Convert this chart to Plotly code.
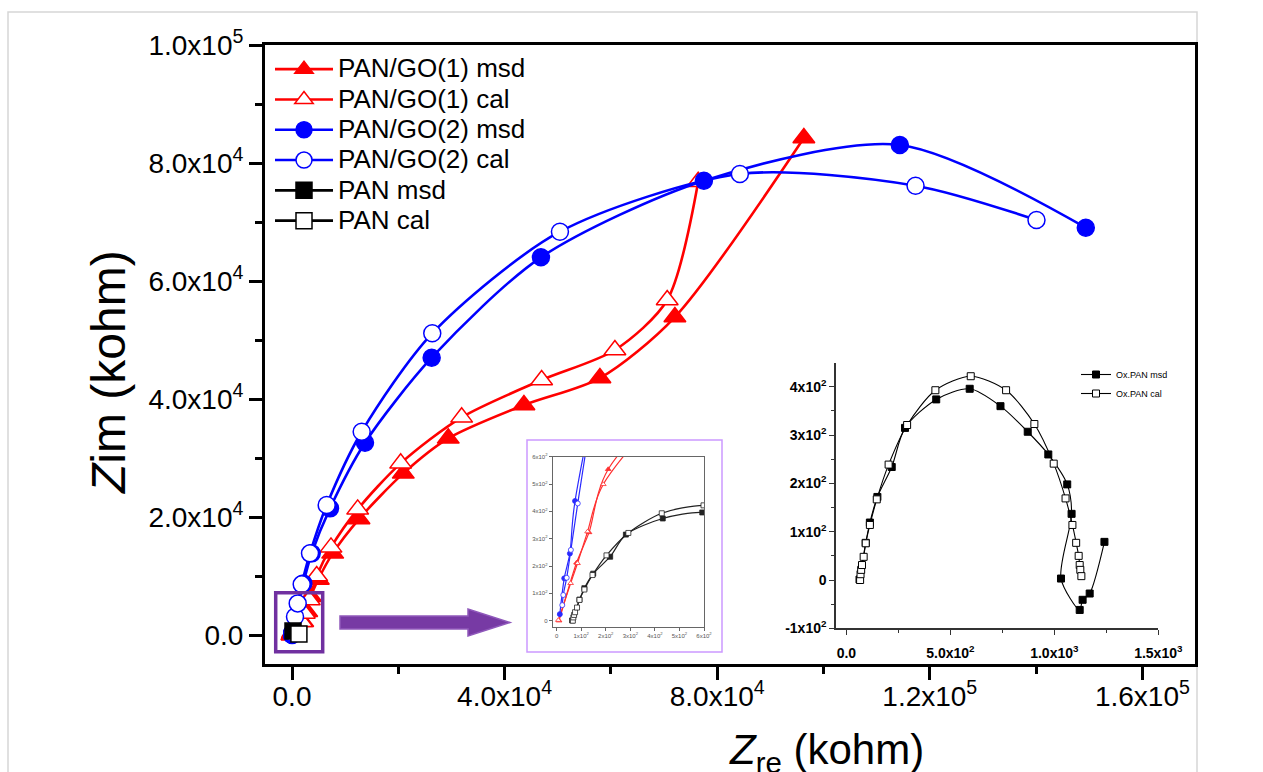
import plotly.graph_objects as go

W, H = 1263, 772
L, R, T, B = 265, 1195, 45, 664  # main plot area in px


def pp(px, py):
    """pixel -> paper coordinates (decorations only)"""
    return (px - L) / (R - L), (B - py) / (B - T)


# ---------------- data (kohm) ----------------
go1_msd_x = [10, 81, 132, 210, 2013, 2765, 3517, 4947, 7656, 12603, 20936, 29400, 43639, 57935, 72042, 96307]
go1_msd_y = [0, 212, 323, 554, 2254, 3949, 6492, 9441, 13848, 19662, 27408, 33341, 38985, 43562, 53901, 84242]

go1_cal_x = [7, 57, 85, 126, 190, 1825, 2314, 3254, 4646, 7336, 12358, 20446, 31920, 46969, 60756, 70594, 76425]
go1_cal_y = [2, 137, 210, 326, 499, 2254, 3678, 5933, 10001, 14865, 21306, 29103, 36900, 43223, 48308, 56783, 76834]

go2_msd_x = [13, 31, 54, 75, 2126, 3706, 7148, 13731, 26278, 46837, 77497, 114365, 149351]
go2_msd_y = [24, 155, 246, 438, 8763, 13848, 21476, 32595, 47002, 64020, 77004, 83055, 69037]

go2_cal_x = [23, 27, 41, 58, 86, 564, 1072, 1825, 3386, 6527, 13111, 26390, 50413, 84269, 117319, 140076]
go2_cal_y = [57, 94, 157, 259, 429, 3102, 5373, 8594, 13848, 22035, 34459, 51138, 68359, 78140, 76157, 70343]

# PAN as it appears at the scale of the main plot
pan_main_msd_x = [190]
pan_main_msd_y = [680]
pan_main_cal_x = [1300]
pan_main_cal_y = [170]

# Ox.PAN (insets)
pan_msd_x = [63, 93, 113, 149, 218, 282, 432, 593, 741, 872, 971, 1062, 1083, 1032, 1122, 1136, 1170, 1241]
pan_msd_y = [1, 77, 119, 172, 234, 315, 374, 396, 360, 307, 260, 198, 137, 3, -62, -41, -28, 79]
pan_cal_x = [66, 68, 71, 75, 83, 93, 113, 146, 203, 292, 428, 598, 768, 904, 997, 1054, 1087, 1105, 1117, 1122, 1125, 1130]
pan_cal_y = [0, 12, 21, 31, 48, 76, 114, 167, 239, 321, 393, 422, 393, 323, 241, 169, 114, 77, 50, 31, 21, 8]

# tick labels
main_x_vals = [0, 40000, 80000, 120000, 160000]
main_x_text = ["0.0", "4.0x10<sup>4</sup>", "8.0x10<sup>4</sup>", "1.2x10<sup>5</sup>", "1.6x10<sup>5</sup>"]
main_y_vals = [0, 20000, 40000, 60000, 80000, 100000]
main_y_text = ["0.0", "2.0x10<sup>4</sup>", "4.0x10<sup>4</sup>", "6.0x10<sup>4</sup>", "8.0x10<sup>4</sup>", "1.0x10<sup>5</sup>"]
small_vals = [0, 100, 200, 300, 400, 500, 600]
small_text = ["0", "1x10<sup>2</sup>", "2x10<sup>2</sup>", "3x10<sup>2</sup>", "4x10<sup>2</sup>", "5x10<sup>2</sup>", "6x10<sup>2</sup>"]
ins_x_vals = [0, 500, 1000, 1500]
ins_x_text = ["<b>0.0</b>", "<b>5.0x10<sup>2</sup></b>", "<b>1.0x10<sup>3</sup></b>", "<b>1.5x10<sup>3</sup></b>"]
ins_y_vals = [-100, 0, 100, 200, 300, 400]
ins_y_text = ["<b>-1x10<sup>2</sup></b>", "<b>0</b>", "<b>1x10<sup>2</sup></b>", "<b>2x10<sup>2</sup></b>",
              "<b>3x10<sup>2</sup></b>", "<b>4x10<sup>2</sup></b>"]

RED = "#ff0000"
BLUE = "#0000ff"
FONT = "Liberation Sans, Arial, sans-serif"
LEG_SPAN = "<span style='font-size:26px'>{}</span>"

fig = go.Figure()

# ---------------- main plot ----------------
main_series = [
    ("PAN/GO(1) msd", go1_msd_x, go1_msd_y, RED, "triangle-up", RED, 19),
    ("PAN/GO(1) cal", go1_cal_x, go1_cal_y, RED, "triangle-up", "white", 19),
    ("PAN/GO(2) msd", go2_msd_x, go2_msd_y, BLUE, "circle", BLUE, 17),
    ("PAN/GO(2) cal", go2_cal_x, go2_cal_y, BLUE, "circle", "white", 17),
    ("PAN msd", pan_main_msd_x, pan_main_msd_y, "black", "square", "black", 16),
    ("PAN cal", pan_main_cal_x, pan_main_cal_y, "black", "square", "white", 16),
]
for name, xs, ys, col, sym, fill, size in main_series:
    fig.add_trace(go.Scatter(
        x=xs, y=ys, name=LEG_SPAN.format(name), mode="lines+markers",
        line=dict(color=col, width=2.6, shape="spline", smoothing=0.8),
        marker=dict(symbol=sym, size=size, color=fill, line=dict(color=col, width=1.5)),
        xaxis="x", yaxis="y", legend="legend",
    ))

# ---------------- small zoom inset ----------------
small_series = [
    (go1_msd_x, go1_msd_y, "#ff3030", "triangle-up", "#ff3030"),
    (go1_cal_x, go1_cal_y, "#ff3030", "triangle-up", "white"),
    (go2_msd_x, go2_msd_y, "#2a2aff", "circle", "#2a2aff"),
    (go2_cal_x, go2_cal_y, "#2a2aff", "circle", "white"),
    (pan_msd_x, pan_msd_y, "#222222", "square", "#222222"),
    (pan_cal_x, pan_cal_y, "#222222", "square", "white"),
]
for xs, ys, col, sym, fill in small_series:
    fig.add_trace(go.Scatter(
        x=xs, y=ys, mode="lines+markers", showlegend=False,
        line=dict(color=col, width=1.2, shape="spline", smoothing=0.8),
        marker=dict(symbol=sym, size=5, color=fill, line=dict(color=col, width=0.8)),
        xaxis="x2", yaxis="y2", cliponaxis=True,
    ))

# ---------------- Ox.PAN inset ----------------
fig.add_trace(go.Scatter(
    x=pan_msd_x, y=pan_msd_y, name="Ox.PAN msd", mode="lines+markers",
    line=dict(color="black", width=1.1, shape="spline", smoothing=0.8),
    marker=dict(symbol="square", size=7, color="black", line=dict(color="black", width=1)),
    xaxis="x3", yaxis="y3", legend="legend2",
))
fig.add_trace(go.Scatter(
    x=pan_cal_x, y=pan_cal_y, name="Ox.PAN cal", mode="lines+markers",
    line=dict(color="black", width=1.1, shape="spline", smoothing=0.8),
    marker=dict(symbol="square", size=7, color="white", line=dict(color="black", width=1)),
    xaxis="x3", yaxis="y3", legend="legend2",
))

# ---------------- axes ----------------
base = dict(showgrid=False, zeroline=False, showline=True, automargin=False)

sx0, sy0 = pp(552.7, 626.7)
sx1, sy1 = pp(704, 456.7)
rx0, ry0 = pp(836, 628.3)
rx1, ry1 = pp(1158.3, 362.7)

fig.update_layout(
    width=W, height=H,
    margin=dict(l=L, r=W - R, t=T, b=H - B, autoexpand=False),
    paper_bgcolor="white", plot_bgcolor="rgba(0,0,0,0)",
    font=dict(family=FONT, color="black"),
    xaxis=dict(
        **base, linecolor="black", linewidth=3, mirror=True, domain=[0, 1], anchor="y",
        range=[-5080, 169900], ticks="outside", ticklen=13, tickwidth=2.5, tickcolor="black",
        tickmode="array", tickvals=main_x_vals, ticktext=main_x_text,
        tickfont=dict(size=28, family=FONT), ticklabelstandoff=-8,
        minor=dict(tickmode="array", tickvals=[20000, 60000, 100000, 140000],
                   ticks="outside", ticklen=7, tickwidth=2.5, tickcolor="black"),
    ),
    yaxis=dict(
        **base, linecolor="black", linewidth=3, mirror=True, domain=[0, 1], anchor="x",
        range=[-4900, 100000], ticks="outside", ticklen=13, tickwidth=2.5, tickcolor="black",
        tickmode="array", tickvals=main_y_vals, ticktext=main_y_text,
        tickfont=dict(size=28, family=FONT), ticklabelstandoff=0,
        minor=dict(tickmode="array", tickvals=[10000, 30000, 50000, 70000, 90000],
                   ticks="outside", ticklen=7, tickwidth=2.5, tickcolor="black"),
    ),
    xaxis2=dict(
        **base, linecolor="#666", linewidth=1, mirror=True,
        domain=[sx0, sx1], anchor="y2", range=[-16, 600], ticks="outside", ticklen=3,
        tickwidth=0.8, tickcolor="#666", tickmode="array", tickvals=small_vals, ticktext=small_text,
        tickfont=dict(size=6, color="#555", family=FONT),
    ),
    yaxis2=dict(
        **base, linecolor="#666", linewidth=1, mirror=True,
        domain=[sy0, sy1], anchor="x2", range=[-22, 600], ticks="outside", ticklen=3,
        tickwidth=0.8, tickcolor="#666", tickmode="array", tickvals=small_vals, ticktext=small_text,
        tickfont=dict(size=6, color="#555", family=FONT),
    ),
    xaxis3=dict(
        **base, linecolor="#333", linewidth=1.5, mirror=False,
        domain=[rx0, rx1], anchor="y3", range=[-50, 1500], ticks="outside", ticklen=5,
        tickwidth=1.2, tickcolor="#333", tickmode="array", tickvals=ins_x_vals, ticktext=ins_x_text,
        tickfont=dict(size=14, family=FONT), ticklabelstandoff=6,
        minor=dict(tickmode="array", tickvals=[250, 750, 1250], ticks="outside", ticklen=3,
                   tickwidth=1, tickcolor="#333"),
    ),
    yaxis3=dict(
        **base, linecolor="#333", linewidth=1.5, mirror=False,
        domain=[ry0, ry1], anchor="x3", range=[-100, 450], ticks="outside", ticklen=5,
        tickwidth=1.2, tickcolor="#333", tickmode="array", tickvals=ins_y_vals, ticktext=ins_y_text,
        tickfont=dict(size=14, family=FONT),
        minor=dict(tickmode="array", tickvals=[-50, 50, 150, 250, 350], ticks="outside", ticklen=3,
                   tickwidth=1, tickcolor="#333"),
    ),
    legend=dict(
        x=pp(270, 0)[0], y=pp(0, 49)[1], xanchor="left", yanchor="top",
        bgcolor="rgba(0,0,0,0)", borderwidth=0, font=dict(size=21, family=FONT),
        itemwidth=58, tracegroupgap=0,
    ),
    legend2=dict(
        x=pp(1076, 0)[0], y=pp(0, 360)[1], xanchor="left", yanchor="top",
        bgcolor="rgba(0,0,0,0)", borderwidth=0, font=dict(size=9, family=FONT),
        itemwidth=30, tracegroupgap=0,
    ),
    showlegend=True,
)

# ---------------- axis titles ----------------
xt = pp(826, 724)
yt = pp(108, 372)
fig.add_annotation(text="<i>Z</i><sub>re</sub> (kohm)", xref="paper", yref="paper",
                   x=xt[0], y=xt[1], xanchor="center", yanchor="top", showarrow=False,
                   font=dict(size=42, family=FONT, color="black"))
fig.add_annotation(text="<i>Z</i>im (kohm)", xref="paper", yref="paper",
                   x=yt[0], y=yt[1], xanchor="center", yanchor="middle", showarrow=False,
                   textangle=-90, font=dict(size=48, family=FONT, color="black"))

# ---------------- decorations ----------------
shapes = []
# light grey outer border of the picture
gx0, gy0 = pp(8, 800)
gx1, gy1 = pp(1197, 12)
shapes.append(dict(type="rect", xref="paper", yref="paper", x0=gx0, y0=gy0, x1=gx1, y1=gy1,
                   line=dict(color="#d6d6d6", width=1.5), layer="below"))
# purple zoom box (data coords of the zoomed region)
shapes.append(dict(type="rect", xref="x", yref="y", x0=-3066, y0=-2831, x1=5775, y1=7170,
                   line=dict(color="#7030a0", width=3.5)))
# purple arrow
arrow_pts = [(340, 616), (468, 616), (468, 609), (510, 622.5), (468, 636), (468, 629), (340, 629)]
path = ""
for i, (ax_, ay_) in enumerate(arrow_pts):
    u, v = pp(ax_, ay_)
    path += ("M" if i == 0 else "L") + f"{u:.5f},{v:.5f} "
path += "Z"
shapes.append(dict(type="path", xref="paper", yref="paper", path=path,
                   fillcolor="#7030a0", line=dict(color="#8a50b8", width=1.5), opacity=0.95))
# light purple frame of the zoomed inset
fx0, fy0 = pp(527, 652)
fx1, fy1 = pp(722, 440)
shapes.append(dict(type="rect", xref="paper", yref="paper", x0=fx0, y0=fy0, x1=fx1, y1=fy1,
                   line=dict(color="#cc99ff", width=1.5)))
fig.update_layout(shapes=shapes)

fig.write_html("out.html")
